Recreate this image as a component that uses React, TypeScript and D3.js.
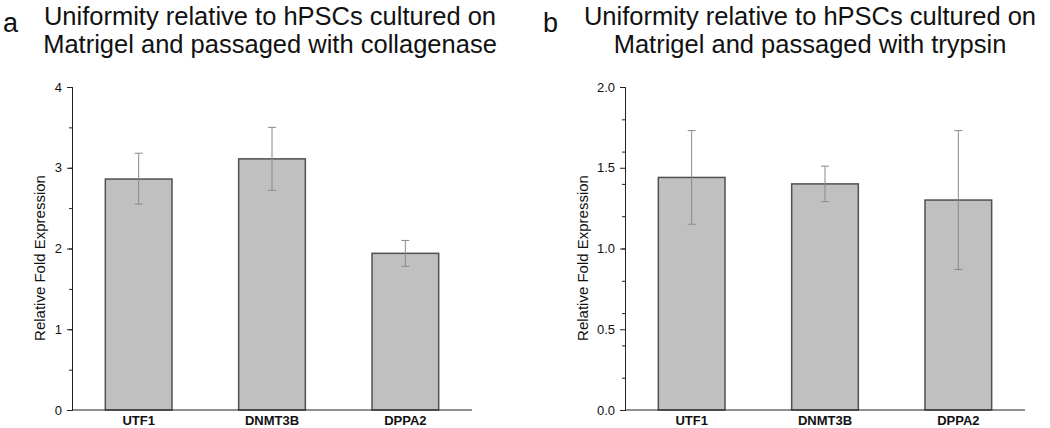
import { useEffect, useRef } from "react";
import * as d3 from "d3";

const genes = ["UTF1", "DNMT3B", "DPPA2"];

// panel a: collagenase
const collagenaseMean = [2.86, 3.11, 1.94];
const collagenaseHigh = [3.18, 3.5, 2.1];
const collagenaseLow = [2.55, 2.72, 1.78];

// panel b: trypsin
const trypsinMean = [1.44, 1.4, 1.3];
const trypsinHigh = [1.73, 1.51, 1.73];
const trypsinLow = [1.15, 1.29, 0.87];

const FONT = "'Liberation Sans', Arial, sans-serif";
const TOP = 87;
const BOTTOM = 410;

type PanelProps = {
  letter: string;
  letterX: number;
  title: string[];
  x0: number;
  titleX: number;
  labelX: number;
  yMax: number;
  tickFmt: string;
  mean: number[];
  high: number[];
  low: number[];
};

const Panel = ({ letter, letterX, title, x0, titleX, labelX, yMax, tickFmt, mean, high, low }: PanelProps) => {
  const axisRef = useRef<SVGGElement>(null);
  const width = 400;

  const xScale = d3.scaleBand().domain(genes).range([x0, x0 + width]).paddingInner(0.5).paddingOuter(0.25);
  const yScale = d3.scaleLinear().domain([0, yMax]).range([BOTTOM, TOP]);

  useEffect(() => {
    const g = d3.select(axisRef.current);
    g.selectAll("*").remove();

    // minor ticks
    const minor = d3
      .axisLeft(yScale)
      .ticks(8)
      .tickSize(3)
      .tickFormat(() => "");
    g.append("g").attr("transform", `translate(${x0},0)`).call(minor);

    const yAxis = d3
      .axisLeft(yScale)
      .ticks(4)
      .tickSize(5)
      .tickPadding(5)
      .tickFormat(d3.format(tickFmt) as any);
    const ya = g.append("g").attr("transform", `translate(${x0},0)`).call(yAxis);
    ya.selectAll("text").attr("font-size", 13).attr("font-family", FONT).attr("fill", "#111");
    g.selectAll("path.domain").attr("stroke", "#222");
    g.selectAll(".tick line").attr("stroke", "#222");

    g.append("line")
      .attr("x1", x0)
      .attr("x2", x0 + width)
      .attr("y1", BOTTOM)
      .attr("y2", BOTTOM)
      .attr("stroke", "#222");

    g.selectAll(".xlab")
      .data(genes)
      .enter()
      .append("text")
      .attr("class", "xlab")
      .attr("x", (d) => (xScale(d) as number) + xScale.bandwidth() / 2)
      .attr("y", 425)
      .attr("text-anchor", "middle")
      .attr("font-family", FONT)
      .attr("font-weight", "bold")
      .attr("font-size", 13)
      .attr("fill", "#111")
      .text((d) => d);
  }, [x0, yMax]);

  return (
    <g>
      <text x={letterX} y={32} fontFamily={FONT} fontSize={27} fill="#111">
        {letter}
      </text>
      {title.map((t, i) => (
        <text key={i} x={titleX} y={25 + i * 28} textAnchor="middle" fontFamily={FONT} fontSize={25.5} fill="#111">
          {t}
        </text>
      ))}
      <text
        transform={`translate(${labelX},258) rotate(-90)`}
        textAnchor="middle"
        fontFamily={FONT}
        fontSize={15}
        fill="#111"
      >
        Relative Fold Expression
      </text>
      {genes.map((gname, i) => (
        <rect
          key={gname}
          x={xScale(gname)}
          y={yScale(mean[i])}
          width={xScale.bandwidth()}
          height={BOTTOM - yScale(mean[i])}
          fill="#c0c0c0"
          stroke="#505050"
          strokeWidth={1.5}
        />
      ))}
      {genes.map((gname, i) => {
        const cx = (xScale(gname) as number) + xScale.bandwidth() / 2;
        return (
          <g key={gname} stroke="#8a8a8a" strokeWidth={1}>
            <line x1={cx} x2={cx} y1={yScale(high[i])} y2={yScale(low[i])} />
            <line x1={cx - 4} x2={cx + 4} y1={yScale(high[i])} y2={yScale(high[i])} />
            <line x1={cx - 4} x2={cx + 4} y1={yScale(low[i])} y2={yScale(low[i])} />
          </g>
        );
      })}
      <g ref={axisRef} />
    </g>
  );
};

export default function App() {
  return (
    <svg width={1050} height={428} style={{ position: "absolute", left: 0, top: 0, background: "#fff" }}>
      <rect width={1050} height={428} fill="#fff" />
      <Panel
        letter="a"
        letterX={3}
        title={["Uniformity relative to hPSCs cultured on", "Matrigel and passaged with collagenase"]}
        x0={72}
        titleX={270}
        labelX={45}
        yMax={4}
        tickFmt="d"
        mean={collagenaseMean}
        high={collagenaseHigh}
        low={collagenaseLow}
      />
      <Panel
        letter="b"
        letterX={543}
        title={["Uniformity relative to hPSCs cultured on", "Matrigel and passaged with trypsin"]}
        x0={625}
        titleX={810}
        labelX={588}
        yMax={2}
        tickFmt=".1f"
        mean={trypsinMean}
        high={trypsinHigh}
        low={trypsinLow}
      />
    </svg>
  );
}
